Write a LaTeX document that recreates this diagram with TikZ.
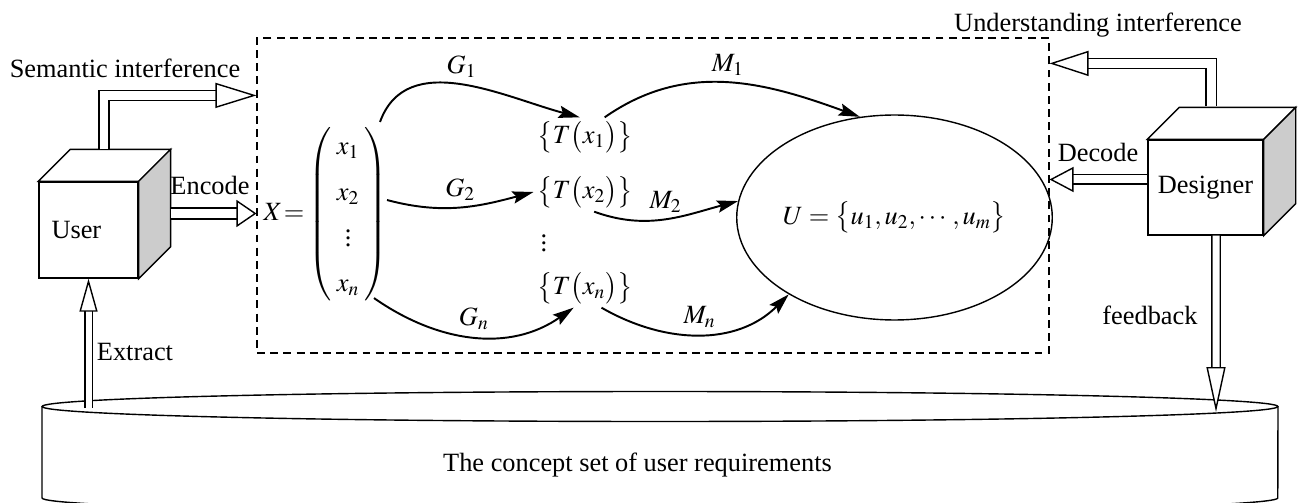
\documentclass[tikz,border=0pt]{standalone}
\usepackage{amsmath}
\usepackage{mathptmx}
\usepackage{fontspec}
\setmainfont{Liberation Serif}
\usetikzlibrary{arrows.meta,shapes.geometric}

\tikzstyle{box}=[draw,line width=0.8pt,fill=white,minimum height=1.92cm,inner sep=0pt]
\tikzstyle{mapbox}=[draw,dash pattern=on 4.5pt off 3pt,line width=0.7pt,inner sep=0pt]
\tikzstyle{flow}=[draw,line width=1.1pt,-{Stealth[length=12pt,width=7pt,inset=2pt]}]
\tikzstyle{pipe}=[draw,line width=0.8pt,double=white]
\tikzstyle{term}=[inner sep=2pt]

\newcommand{\img}[1]{\bigl\{T\bigl(x_{#1}\bigr)\bigr\}}

\begin{document}
\begin{tikzpicture}[x=0.02cm,y=-0.02cm,font=\fontsize{15}{18}\selectfont]
\useasboundingbox (0,0) rectangle (1298,503);

% requirement store at the bottom
\draw[line width=0.8pt] (42,406.5) -- (42,498)
	arc[start angle=180,end angle=360,x radius=12.36cm,y radius=0.3cm] -- (1278,406.5);
\draw[line width=0.8pt,fill=white] (660,406.5) ellipse [x radius=12.36cm,y radius=0.3cm];
\coordinate (ext) at (88.5,408);
\coordinate (fb) at (1216,412);
\node (concept) at (637.5,465) {The concept set of user requirements};

% mapping area
\node[mapbox,minimum width=15.84cm,minimum height=6.3cm] (map) at (653,195.5) {};

% the two agents, drawn as cubes
\node[box,minimum width=1.98cm,text width=1.48cm,align=left,inner xsep=0.25cm] (user) at (88.5,230) {User};
\node[box,minimum width=2.3cm,minimum height=1.9cm] (designer) at (1205.5,187.5) {Designer};
\foreach \c in {user,designer} {
	\draw[line width=0.8pt,fill=white] (\c.north west) -- ++(32,-32)
		-- ([shift={(32,-32)}]\c.north east) -- (\c.north east) -- cycle;
	\draw[line width=0.8pt,fill=gray!40] (\c.north east) -- ++(32,-32)
		-- ([shift={(32,-32)}]\c.south east) -- (\c.south east) -- cycle;
}

% vector, images and concept set
\node[inner sep=0pt,anchor=east] (vec) at (388,214)
	{\def\arraystretch{1.45}\arraycolsep=3pt\delimitershortfall=14pt
	$X\mkern1mu{=}\mkern1mu\left(\begin{array}{c} x_1\\ x_2\\ \vdots\\ x_n\end{array}\right)$};
\node[term] (t1) at (585,137) {$\img{1}$};
\node[term] (t2) at (585,192) {$\img{2}$};
\node[inner sep=0pt] (tdots) at (544,238) {$\vdots$};
\node[term] (tn) at (585,288) {$\img{n}$};
\node[draw,ellipse,line width=0.8pt,minimum width=5.9cm,minimum height=4.1cm,inner sep=0pt] (set) at (894.5,217.5)
	{$U=\bigl\{u_1,u_2,\cdots,u_m\bigr\}$};

% mappings G and M
\path[flow] ([shift={(-8,0)}]vec.north east) to[out=70,in=165] node[above] {$G_1$} (t1.105);
\path[flow] ([shift={(-1,-14)}]vec.east) to[out=-15,in=195] node[above] {$G_2$} (t2.west);
\path[flow] ([shift={(-14,-8)}]vec.south east) to[out=-35,in=215] node[above] {$G_n$} (tn.-120);
\path[flow] (t1.45) to[out=35,in=160] node[above] {$M_1$} (set.109);
\path[flow] (t2.-65) to[out=-20,in=195] node[above] {$M_2$} (set.174);
\path[flow] (tn.-50) to[out=-30,in=225] node[above] {$M_n$} (set.-144);

% hollow arrows between agents, mapping area and store
\coordinate (sem) at ([shift={(15.5,-32)}]user.north);
\coordinate (enc) at ([shift={(32,-16.5)}]user.east);
\coordinate (und) at ([shift={(5.5,-33)}]designer.north);
\coordinate (dec) at ([shift={(0,-8)}]designer.west);
\coordinate (fbs) at ([shift={(10.5,0)}]designer.south);
\draw[pipe,double distance=0.17cm,-{Triangle[length=0.82cm,width=0.5cm,fill=white,line width=0.8pt]}]
	(sem) |- ([shift={(0,58)}]map.north west);
\draw[pipe,double distance=0.2cm,-{Triangle[length=0.4cm,width=0.54cm,fill=white,line width=0.8pt]}]
	(enc) -- (enc -| map.west);
\draw[pipe,double distance=0.18cm,-{Triangle[length=0.78cm,width=0.5cm,fill=white,line width=0.8pt]}]
	(und) |- ([shift={(0,26)}]map.north east);
\draw[pipe,double distance=0.16cm,-{Triangle[length=0.48cm,width=0.5cm,fill=white,line width=0.8pt]}]
	(dec) -- (dec -| map.east);
\draw[pipe,double distance=0.12cm,-{Triangle[length=0.66cm,width=0.36cm,fill=white,line width=0.8pt]}]
	(ext) -- (user.south);
\draw[pipe,double distance=0.14cm,-{Triangle[length=0.9cm,width=0.38cm,fill=white,line width=0.8pt]}]
	(fbs) -- (fb);

% arrow texts
\node (semantic) at (125,68) {Semantic interference};
\node (understanding) at (1098,25) {Understanding interference};
\node (encode) at (210,185) {Encode};
\node (decode) at (1098,152) {Decode};
\node (extract) at (135,352) {Extract};
\node (feedback) at (1150,315) {feedback};
\end{tikzpicture}
\end{document}
